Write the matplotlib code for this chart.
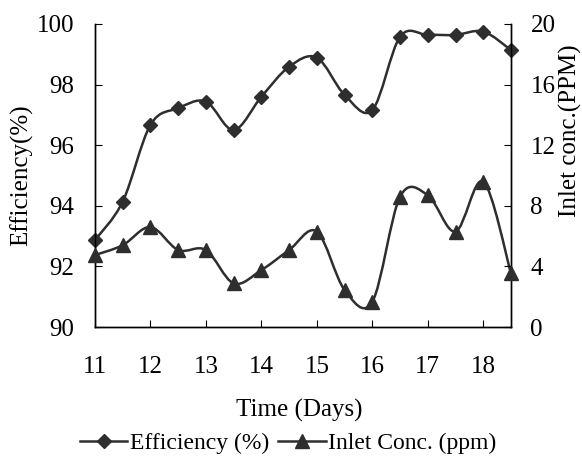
import matplotlib.pyplot as plt
import numpy as np
from matplotlib.path import Path
from matplotlib.patches import PathPatch
from matplotlib.lines import Line2D

plt.rcParams['font.family'] = ['Liberation Serif', 'DejaVu Serif']

# Data
days = [11, 11.5, 12, 12.5, 13, 13.5, 14, 14.5, 15, 15.5, 16, 16.5, 17, 17.5, 18, 18.5]
efficiency = [92.87, 94.14, 96.67, 97.22, 97.44, 96.5, 97.6, 98.59, 98.89,
              97.66, 97.16, 99.58, 99.64, 99.64, 99.75, 99.14]
inlet_conc = [4.75, 5.4, 6.6, 5.08, 5.08, 2.88, 3.76, 5.08, 6.3,
              2.44, 1.67, 8.6, 8.7, 6.3, 9.6, 3.54]
x_ticks = [11, 12, 13, 14, 15, 16, 17, 18]
eff_ticks = [90, 92, 94, 96, 98, 100]
conc_ticks = [0, 4, 8, 12, 16, 20]

col = '#2e2e2e'


def smooth_path(x, y):
    # cubic bezier segments through the points (spreadsheet-style smoothed line)
    n = len(x)
    verts = [(x[0], y[0])]
    codes = [Path.MOVETO]
    for i in range(n - 1):
        a = max(i - 1, 0)
        b = min(i + 2, n - 1)
        c1 = (x[i] + (x[i + 1] - x[a]) / 6, y[i] + (y[i + 1] - y[a]) / 6)
        c2 = (x[i + 1] - (x[b] - x[i]) / 6, y[i + 1] - (y[b] - y[i]) / 6)
        verts += [c1, c2, (x[i + 1], y[i + 1])]
        codes += [Path.CURVE4] * 3
    return Path(verts, codes)


fig = plt.figure(figsize=(5.82, 4.66), dpi=100)
ax = fig.add_axes([95 / 582, 1 - 327 / 466, (511 - 95) / 582, (327 - 24) / 466])
ax2 = ax.twinx()

ax.add_patch(PathPatch(smooth_path(days, efficiency), fill=False, edgecolor=col, lw=1.8))
ax.plot(days, efficiency, ls='none', marker='D', ms=7, color=col, clip_on=False, zorder=3)
ax2.add_patch(PathPatch(smooth_path(days, inlet_conc), fill=False, edgecolor=col, lw=1.8))
ax2.plot(days, inlet_conc, ls='none', marker='^', ms=10, color=col, clip_on=False, zorder=3)

ax.set_xlim(11, 18.5)
ax.set_ylim(90, 100)
ax2.set_ylim(0, 20)
ax.set_xticks(x_ticks)
ax.set_yticks(eff_ticks)
ax2.set_yticks(conc_ticks)

for a in (ax, ax2):
    a.spines['top'].set_visible(False)
    for s in a.spines.values():
        s.set_color('black')
        s.set_linewidth(1)
ax.tick_params(axis='x', direction='in', length=5, labelsize=18, pad=21)
ax.tick_params(axis='y', direction='in', length=5, labelsize=18, pad=15)
ax2.tick_params(axis='y', direction='in', length=5, labelsize=18, pad=14)

fig.text(0.037, 0.625, 'Efficiency(%)', rotation=90, fontsize=18, ha='center', va='center')
fig.text(0.981, 0.72, 'Inlet conc.(PPM)', rotation=90, fontsize=18, ha='center', va='center')
fig.text(0.515, 0.12, 'Time (Days)', fontsize=18, ha='center', va='center')

handles = [
    Line2D([], [], color=col, lw=1.8, marker='D', ms=7, label='Efficiency (%)'),
    Line2D([], [], color=col, lw=1.8, marker='^', ms=10, label='Inlet Conc. (ppm)'),
]
fig.legend(handles=handles, loc='center', bbox_to_anchor=(0.495, 0.048), ncol=2, frameon=False,
           fontsize=17, handlelength=2.0, handletextpad=0.1, columnspacing=0.4)

fig.savefig('out.png', dpi=100)
